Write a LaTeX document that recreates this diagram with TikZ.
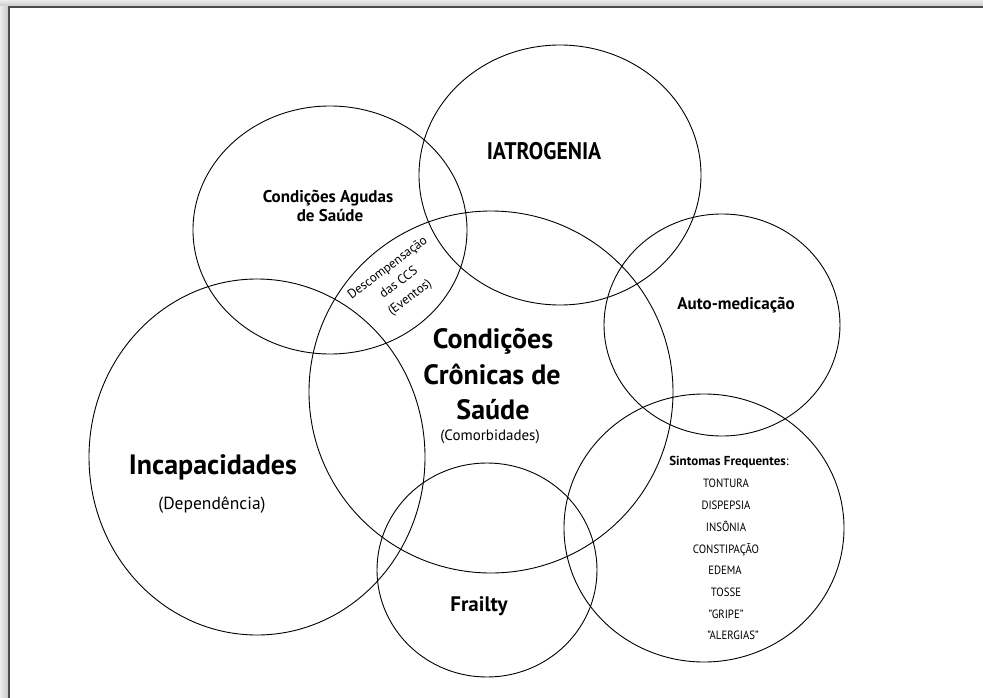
\documentclass[tikz,border=0pt]{standalone}
\usepackage{fontspec}
\setmainfont{PT Sans}
\newfontfamily\capsfont{PT Sans}[FakeStretch=0.9]
\begin{document}
\begin{tikzpicture}[x=1pt,y=-1pt,
  ring/.style={draw=black,line width=0.9pt},
  txt/.style={anchor=base,inner sep=0pt},
  fs/.style={font=\fontsize{#1}{#1}\selectfont},
  bfs/.style={font=\fontsize{#1}{#1}\selectfont\bfseries},
  cfs/.style={font=\capsfont\fontsize{#1}{#1}\selectfont},
  bcfs/.style={font=\capsfont\fontsize{#1}{#1}\selectfont\bfseries}]
\useasboundingbox (0,0) rectangle (983,698);
% page frame with a soft shadow on the upper and left edges
\shade[top color=gray!15,bottom color=gray!45] (0,0) rectangle (983,7);
\shade[left color=gray!15,right color=gray!45] (0,7) rectangle (9,698);
\draw[black!70,line width=1.2pt] (9,698) -- (9,7) -- (983,7);

% overlapping sets
\draw[ring] (330,230) ellipse [x radius=137,y radius=124];   % acute conditions
\draw[ring] (560,175) ellipse [x radius=141,y radius=130];   % iatrogenesis
\draw[ring] (491,392) ellipse [x radius=182,y radius=181];   % chronic conditions
\draw[ring] (722,325) ellipse [x radius=118,y radius=111];   % self-medication
\draw[ring] (704,528) ellipse [x radius=140,y radius=134];   % symptoms
\draw[ring] (257,457) ellipse [x radius=168,y radius=178];   % disabilities
\draw[ring] (487,570) ellipse [x radius=110,y radius=107];   % frailty

% labels
\node[txt,bcfs=24] (iat) at (544,160) {IATROGENIA};
\node[txt,bfs=17] (cag1) at (328,202) {Condições Agudas};
\node[txt,bfs=17] (cag2) at (330,222) {de Saúde};
\node[inner sep=0pt,rotate=37,align=center,
      font=\fontsize{13}{18.5}\selectfont] (desc) at (399,283)
      {Descompensação\\das CCS\\(Eventos)};
\node[txt,bfs=28] (ccs1) at (493,348) {Condições};
\node[txt,bfs=28] (ccs2) at (492,384) {Crônicas de};
\node[txt,bfs=28] (ccs3) at (493,419) {Saúde};
\node[txt,fs=15] (ccs4) at (490,440) {(Comorbidades)};
\node[txt,bfs=17] (auto) at (736,309) {Auto-medicação};
\node[txt,bfs=28] (inc1) at (213,474) {Incapacidades};
\node[txt,fs=17.5] (inc2) at (212,509) {(Dependência)};
\node[txt,bfs=21] (frail) at (479,611) {Frailty};
\node[txt,bfs=13] (sint) at (729,465) {Sintomas Frequentes\mdseries:};
\node[txt,cfs=12] (s1) at (726,487) {TONTURA};
\node[txt,cfs=12] (s2) at (726,509) {DISPEPSIA};
\node[txt,cfs=12] (s3) at (726,531) {INSÔNIA};
\node[txt,cfs=12] (s4) at (726,553) {CONSTIPAÇÃO};
\node[txt,cfs=12] (s5) at (725,574) {EDEMA};
\node[txt,cfs=12] (s6) at (726,596) {TOSSE};
\node[txt,cfs=12] (s7) at (726,618) {”GRIPE”};
\node[txt,cfs=12] (s8) at (733,639) {”ALERGIAS”};
\end{tikzpicture}
\end{document}
